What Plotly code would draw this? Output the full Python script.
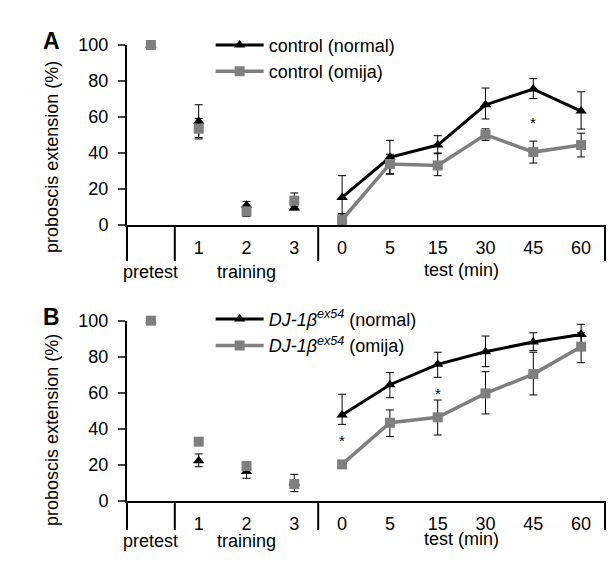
import plotly.graph_objects as go

# ---------------- data ----------------
categories = ["pretest", "1", "2", "3", "0", "5", "15", "30", "45", "60"]
tick_labels = ["", "1", "2", "3", "0", "5", "15", "30", "45", "60"]
groups = [("pretest", 0, 0), ("training", 1, 3), ("test (min)", 4, 9)]
y_ticks = [0, 20, 40, 60, 80, 100]

# panel A: control
A_normal = [100, 57.6, 10.9, 9.4, 15.3, 37.6, 44.4, 66.8, 75.5, 63.3]
A_normal_up = [0, 9.2, 2.2, 1.0, 12.1, 9.4, 5.2, 9.3, 5.8, 10.7]
A_normal_dn = [0, 9.0, 2.2, 1.0, 9.0, 9.4, 4.8, 7.9, 5.3, 10.0]
A_omija = [100, 53.5, 7.6, 13.5, 2.9, 33.9, 33.1, 50.2, 40.5, 44.4]
A_omija_up = [0, 5.7, 2.8, 4.3, 3.2, 5.4, 6.9, 3.2, 6.1, 6.6]
A_omija_dn = [0, 5.7, 2.8, 4.3, 2.9, 5.4, 5.7, 3.2, 6.1, 6.6]
A_stars = [("45", 57.0)]

# panel B: DJ-1beta ex54
B_normal = [100, 22.3, 16.3, 10.0, 47.7, 64.5, 75.8, 82.8, 88.2, 92.4]
B_normal_up = [0, 3.8, 3.7, 4.8, 11.5, 6.7, 6.7, 8.7, 5.1, 5.6]
B_normal_dn = [0, 3.3, 3.7, 4.8, 5.2, 7.2, 7.2, 8.3, 4.8, 4.9]
B_omija = [100, 32.9, 19.4, 9.4, 20.3, 43.4, 46.4, 59.7, 70.4, 85.6]
B_omija_up = [0, 2.0, 2.0, 1.0, 0, 7.1, 9.6, 12.0, 12.1, 7.7]
B_omija_dn = [0, 2.0, 2.0, 1.0, 0, 7.7, 9.8, 11.4, 11.6, 8.9]
B_stars = [("0", 33.4), ("15", 59.7)]

names_A = ["control (normal)", "control (omija)"]
names_B = ["<i>DJ-1β<sup>ex54</sup></i> (normal)", "<i>DJ-1β<sup>ex54</sup></i> (omija)"]

# ---------------- style ----------------
FONT = "Arial, Liberation Sans, sans-serif"
BLACK = "#000000"
GRAY = "#7f7f7f"
TEST_START = 4

fig = go.Figure()


def add_series(xa, ya, vals, up, dn, name, color, symbol, msize, lw, legend):
    err_style = dict(type="data", symmetric=False, color="#000000", thickness=1, width=4)
    # pretest + training: markers only
    fig.add_trace(go.Scatter(
        x=categories[:TEST_START], y=vals[:TEST_START], mode="markers",
        marker=dict(symbol=symbol, size=msize, color=color),
        error_y=dict(array=up[:TEST_START], arrayminus=dn[:TEST_START], **err_style),
        xaxis=xa, yaxis=ya, showlegend=False, cliponaxis=False, hoverinfo="skip"))
    # test: line + markers
    fig.add_trace(go.Scatter(
        x=categories[TEST_START:], y=vals[TEST_START:], mode="lines+markers",
        line=dict(color=color, width=lw),
        marker=dict(symbol=symbol, size=msize, color=color),
        error_y=dict(array=up[TEST_START:], arrayminus=dn[TEST_START:], **err_style),
        xaxis=xa, yaxis=ya, name=name, legend=legend, cliponaxis=False))


add_series("x", "y", A_normal, A_normal_up, A_normal_dn, names_A[0], BLACK, "triangle-up", 10, 3, "legend")
add_series("x", "y", A_omija, A_omija_up, A_omija_dn, names_A[1], GRAY, "square", 10, 3.5, "legend")
add_series("x2", "y2", B_normal, B_normal_up, B_normal_dn, names_B[0], BLACK, "triangle-up", 10, 3, "legend2")
add_series("x2", "y2", B_omija, B_omija_up, B_omija_dn, names_B[1], GRAY, "square", 10, 3.5, "legend2")

axis_common = dict(showgrid=False, zeroline=False, showline=True, linecolor="black", linewidth=2)

fig.update_layout(
    width=613, height=577,
    margin=dict(l=127, r=8, t=45, b=76),
    paper_bgcolor="white", plot_bgcolor="white",
    font=dict(family=FONT, size=18, color="black"),
    xaxis=dict(type="category", categoryorder="array", categoryarray=categories,
               range=[-0.5, len(categories) - 0.5], tickmode="array",
               tickvals=categories, ticktext=tick_labels, ticks="",
               ticklabelstandoff=5, anchor="y", **axis_common),
    yaxis=dict(domain=[0.6053, 1.0], range=[0, 100], tickvals=y_ticks, ticks="outside",
               ticklen=7, tickwidth=2, ticklabelstandoff=6, anchor="x", **axis_common),
    xaxis2=dict(type="category", categoryorder="array", categoryarray=categories,
                range=[-0.5, len(categories) - 0.5], tickmode="array",
                tickvals=categories, ticktext=tick_labels, ticks="",
                ticklabelstandoff=5, anchor="y2", **axis_common),
    yaxis2=dict(domain=[0.0, 0.3954], range=[0, 100], tickvals=y_ticks, ticks="outside",
                ticklen=7, tickwidth=2, ticklabelstandoff=6, anchor="x2", **axis_common),
    legend=dict(x=0.175, y=1.04, xanchor="left", yanchor="top", bgcolor="rgba(0,0,0,0)",
                font=dict(size=18), tracegroupgap=0, itemwidth=48),
    legend2=dict(x=0.175, y=0.439, xanchor="left", yanchor="top", bgcolor="rgba(0,0,0,0)",
                 font=dict(size=18), tracegroupgap=0, itemwidth=48),
)

shapes = []
annotations = []
panels = [
    ("x", "y", "A", A_stars, 0.20, 0.261, 0.25, 0.378),
    ("x2", "y2", "B", B_stars, 0.161, 0.222, 0.211, 0.394),
]
for xa, ya, letter, stars, div_len, grp_y, test_y, title_y in panels:
    # section dividers below the axis
    bounds = [g[1] - 0.5 for g in groups] + [groups[-1][2] + 0.5]
    for b in bounds:
        if b <= -0.5 or b >= len(categories) - 0.5:
            xr, xv = xa + " domain", (0 if b <= -0.5 else 1)
        else:
            xr, xv = xa, b
        shapes.append(dict(type="line", xref=xr, yref=ya + " domain", x0=xv, x1=xv,
                           y0=0, y1=-div_len, line=dict(color="black", width=2)))
    # group labels
    for label, i0, i1 in groups:
        annotations.append(dict(text=label, xref=xa, yref=ya + " domain",
                                x=(i0 + i1) / 2, y=-(test_y if label.startswith("test") else grp_y),
                                showarrow=False, xanchor="center", yanchor="middle",
                                font=dict(size=18)))
    # significance asterisks
    for cat, yv in stars:
        annotations.append(dict(text="*", xref=xa, yref=ya, x=categories.index(cat), y=yv,
                                showarrow=False, font=dict(size=15)))
    # y title
    annotations.append(dict(text="proboscis extension (%)", xref=xa + " domain", yref=ya + " domain",
                            x=-0.157, y=title_y, textangle=-90, showarrow=False,
                            xanchor="center", yanchor="middle", font=dict(size=18)))
    # panel letter
    annotations.append(dict(text="<b>" + letter + "</b>", xref=xa + " domain", yref=ya + " domain",
                            x=-0.157, y=1.02, showarrow=False, xanchor="center", yanchor="middle",
                            font=dict(size=23)))

fig.update_layout(shapes=shapes, annotations=annotations)
fig.write_html("out.html", config={"displayModeBar": False},
               post_script="document.body.style.margin='0px';")
